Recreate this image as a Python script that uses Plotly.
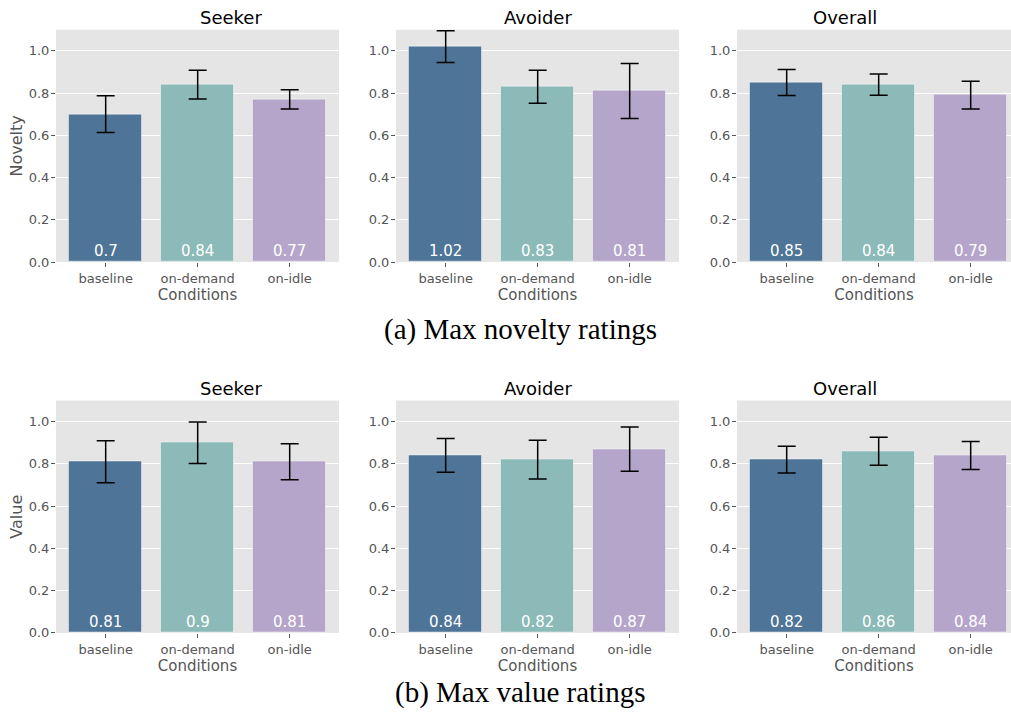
import plotly.graph_objects as go

W, H = 1011, 723

conditions = ["baseline", "on-demand", "on-idle"]
groups = ["Seeker", "Avoider", "Overall"]
bar_colors = ["#4E7498", "#8BBAB8", "#B5A5CA"]

# Max novelty ratings: mean and error per group
novelty_means = {
    "Seeker": [0.70, 0.84, 0.77],
    "Avoider": [1.02, 0.83, 0.81],
    "Overall": [0.85, 0.84, 0.79],
}
novelty_err = {
    "Seeker": [0.087, 0.068, 0.046],
    "Avoider": [0.075, 0.078, 0.130],
    "Overall": [0.061, 0.050, 0.066],
}

# Max value ratings: mean and error per group
value_means = {
    "Seeker": [0.81, 0.90, 0.81],
    "Avoider": [0.84, 0.82, 0.87],
    "Overall": [0.82, 0.86, 0.84],
}
value_err = {
    "Seeker": [0.099, 0.098, 0.085],
    "Avoider": [0.080, 0.092, 0.105],
    "Overall": [0.063, 0.066, 0.066],
}

y_ticks = [0.0, 0.2, 0.4, 0.6, 0.8, 1.0]
y_tick_text = ["0.0", "0.2", "0.4", "0.6", "0.8", "1.0"]

rows = [
    ("Novelty", novelty_means, novelty_err, "(a) Max novelty ratings"),
    ("Value", value_means, value_err, "(b) Max value ratings"),
]

# pixel layout of panels
col_px = [(56, 339), (396, 679), (737, 1011)]
row_px = [(30, 265), (405, 640)]
caption_y_px = [333, 700]
px_per_unit = 92.0

fig = go.Figure()
annotations = []
tick_color = "#555555"
font_main = "DejaVu Sans"

ax_i = 0
for r, (ylabel, means, errs, caption) in enumerate(rows):
    top, bot = row_px[r]
    for c, g in enumerate(groups):
        ax_i += 1
        xa = "x" if ax_i == 1 else f"x{ax_i}"
        ya = "y" if ax_i == 1 else f"y{ax_i}"
        left, right = col_px[c]
        x0 = -0.54
        x1 = x0 + (right - left) / px_per_unit
        fig.add_trace(go.Bar(
            x=list(range(len(conditions))),
            y=means[g],
            width=0.8,
            marker=dict(color=bar_colors,
                        line=dict(color="rgba(255,255,255,0.45)", width=1)),
            error_y=dict(type="data", array=errs[g], visible=True,
                         color="black", thickness=1.5, width=9),
            xaxis=xa, yaxis=ya, showlegend=False, hoverinfo="skip",
        ))
        xkey = "xaxis" if ax_i == 1 else f"xaxis{ax_i}"
        ykey = "yaxis" if ax_i == 1 else f"yaxis{ax_i}"
        fig.layout[xkey] = dict(
            domain=[left / W, right / W], range=[x0, x1],
            anchor=ya, tickmode="array",
            tickvals=list(range(len(conditions))), ticktext=conditions,
            ticks="outside", ticklen=4, tickcolor=tick_color, tickwidth=1,
            tickfont=dict(family=font_main, size=13, color=tick_color),
            showgrid=False, zeroline=False, showline=False,
            title=dict(text="Conditions", standoff=2,
                       font=dict(family=font_main, size=15, color=tick_color)),
            fixedrange=True,
        )
        fig.layout[ykey] = dict(
            domain=[(H - bot) / H, (H - top) / H], range=[0, 1.1],
            anchor=xa, tickmode="array", tickvals=y_ticks, ticktext=y_tick_text,
            ticks="outside", ticklen=4, tickcolor=tick_color, tickwidth=1,
            ticklabelstandoff=-1,
            tickfont=dict(family=font_main, size=13, color=tick_color),
            showgrid=True, gridcolor="white", gridwidth=1,
            zeroline=False, showline=False, fixedrange=True,
            title=dict(text=ylabel if c == 0 else "", standoff=2,
                       font=dict(family=font_main, size=16, color=tick_color)),
        )
        # panel title
        annotations.append(dict(
            text=g, xref="paper", yref="paper",
            x=(left + right) / 2 / W if c < 2 else (left + left + 283) / 2 / W,
            y=(H - top) / H, yanchor="bottom", yshift=0, showarrow=False,
            font=dict(family=font_main, size=18, color="black"),
        ))
        # value labels inside bars
        for k, v in enumerate(means[g]):
            annotations.append(dict(
                text=f"{v:g}", x=k, y=0, xref=xa, yref=ya,
                yanchor="bottom", yshift=0, showarrow=False,
                font=dict(family=font_main, size=15, color="white"),
            ))
    annotations.append(dict(
        text=caption, xref="paper", yref="paper",
        x=520 / W, y=(H - caption_y_px[r]) / H, xanchor="center", yanchor="middle",
        showarrow=False,
        font=dict(family="Liberation Serif", size=29, color="black"),
    ))

fig.update_layout(
    width=W, height=H,
    margin=dict(l=0, r=0, t=0, b=0),
    paper_bgcolor="white", plot_bgcolor="#E5E5E5",
    annotations=annotations, bargap=0,
    font=dict(family=font_main),
)

fig.write_html("out.html", config={"displayModeBar": False})
